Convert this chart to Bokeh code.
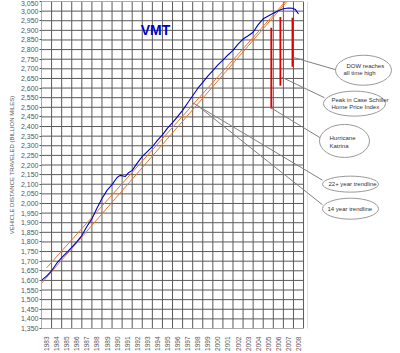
from math import pi
from bokeh.plotting import figure
from bokeh.models import Range1d, FixedTicker, NumeralTickFormatter, BoxAnnotation
from bokeh.core.properties import value
from bokeh.embed import file_html
from bokeh.resources import INLINE

# ---------------- data ----------------
vmt_x = [1983.0, 1983.5, 1984.0, 1984.5, 1985.0, 1985.5, 1986.0, 1986.5, 1987.0, 1987.5,
         1988.0, 1988.5, 1989.0, 1989.5, 1990.0, 1990.5, 1990.8, 1991.0, 1991.3, 1991.6,
         1992.0, 1992.5, 1993.0, 1993.5, 1994.0, 1994.5, 1995.0, 1995.5, 1996.0, 1996.5,
         1997.0, 1997.5, 1998.0, 1998.5, 1999.0, 1999.5, 2000.0, 2000.5, 2001.0, 2001.5,
         2002.0, 2002.5, 2003.0, 2003.5, 2004.0, 2004.5, 2005.0, 2005.5, 2006.0, 2006.5,
         2007.0, 2007.5, 2007.9, 2008.2, 2008.5]
vmt_y = [1600, 1622, 1650, 1688, 1718, 1745, 1772, 1800, 1833, 1880,
         1920, 1975, 2026, 2068, 2098, 2135, 2146, 2144, 2140, 2158,
         2172, 2210, 2245, 2270, 2295, 2328, 2357, 2392, 2420, 2452,
         2484, 2522, 2560, 2598, 2630, 2662, 2690, 2720, 2745, 2772,
         2796, 2828, 2855, 2872, 2890, 2930, 2960, 2975, 2989, 3002,
         3012, 3016, 3015, 3008, 2985]

trend22_x = [1983.5, 2007.2]
trend22_y = [1665, 3050]
trend14_x = [1983.0, 2007.35]
trend14_y = [1585, 3050]

event_names = ["Hurricane Katrina", "Peak in Case Schiller Home Price Index",
               "DOW reaches all time high"]
event_x = [2005.8, 2006.7, 2007.9]
event_top = [2914, 2969, 2965]
event_bottom = [2494, 2612, 2711]

year_labels = [str(y) for y in range(1983, 2009)]
y_ticks = list(range(1350, 3051, 50))
x_bounds = list(range(1983, 2010))

# ---------------- layout helpers ----------------
W, H = 400, 353
LEFT, TOP, BOTTOM = 41, 1, 19
X0, X1 = 1983.0, 2018.62
Y0, Y1 = 1350, 3050
FW = W - LEFT
FH = H - TOP - BOTTOM


def dx(px):
    return X0 + (px - LEFT) * (X1 - X0) / FW


def dy(py):
    return Y1 - (py - TOP) * (Y1 - Y0) / FH


FONT = value("Liberation Sans")

p = figure(width=W, height=H, x_range=Range1d(X0, X1), y_range=Range1d(Y0, Y1),
           output_backend="svg", toolbar_location=None,
           min_border_left=LEFT, min_border_right=0, min_border_top=TOP,
           min_border_bottom=BOTTOM)
p.outline_line_color = None
p.xgrid.visible = False
p.ygrid.visible = False
p.background_fill_color = "white"
p.border_fill_color = "white"

# grid (drawn only over the chart's plot area)
p.segment(x0=x_bounds, y0=[Y0] * len(x_bounds), x1=x_bounds, y1=[Y1] * len(x_bounds),
          line_color="#5a5a5a", line_width=1)
p.segment(x0=[x_bounds[0]] * len(y_ticks), y0=y_ticks, x1=[x_bounds[-1]] * len(y_ticks),
          y1=y_ticks, line_color="#5a5a5a", line_width=1)

# series
p.line(trend22_x, trend22_y, line_color="#E8772E", line_width=1)
p.line(trend14_x, trend14_y, line_color="#E8772E", line_width=1)
p.line(vmt_x, vmt_y, line_color="#0000CC", line_width=1.1)
p.segment(x0=event_x, y0=event_bottom, x1=event_x, y1=event_top,
          line_color="#E00000", line_width=1.8)

# title
p.text(x=[dx(155)], y=[dy(30)], text=["VMT"], text_font=FONT, text_font_style="bold",
       text_font_size="14px", text_color="#0000CC", text_align="center",
       text_baseline="middle")

# callouts
conn = [(293, 58, 337, 71), (281, 78, 324, 99), (270, 109, 320, 140),
        (192, 104, 322, 183), (197, 107, 322, 208)]
p.segment(x0=[dx(c[0]) for c in conn], y0=[dy(c[1]) for c in conn],
          x1=[dx(c[2]) for c in conn], y1=[dy(c[3]) for c in conn],
          line_color="#808080", line_width=1)

ell = [(363, 71, 56, 30), (354, 105, 62, 25), (344, 143, 50, 33),
       (350, 187, 56, 16), (350, 212, 56, 21)]
p.ellipse(x=[dx(e[0]) for e in ell], y=[dy(e[1]) for e in ell],
          width=[e[2] for e in ell], height=[e[3] for e in ell],
          width_units="screen", height_units="screen",
          fill_color="white", line_color="#9a9a9a", line_width=1)

notes = [(346, 67, "DOW reaches"), (343, 74, "all time high"),
         (331, 101, "Peak in Case Schiller"), (331, 108, "Home Price Index"),
         (329, 140, "Hurricane"), (329, 148, "Katrina"),
         (328, 187, "22+ year trendline"), (327, 212, "14 year trendline")]
p.text(x=[dx(n[0]) for n in notes], y=[dy(n[1]) for n in notes], text=[n[2] for n in notes],
       text_font=FONT, text_font_size="6px", text_color="#333333",
       text_align="left", text_baseline="middle")

# axes
p.xaxis.ticker = FixedTicker(ticks=[int(l) + 0.5 for l in year_labels])
p.xaxis.major_label_overrides = {int(l) + 0.5: l for l in year_labels}
p.xaxis.major_label_orientation = pi / 2
p.xaxis.axis_line_color = None
p.xaxis.major_tick_line_color = None
p.xaxis.minor_tick_line_color = None
p.xaxis.major_label_standoff = 2
p.xaxis.major_label_text_font = "Liberation Sans"
p.xaxis.major_label_text_font_size = "6.5px"
p.xaxis.major_label_text_color = "#555555"

p.yaxis.ticker = FixedTicker(ticks=y_ticks)
p.yaxis.formatter = NumeralTickFormatter(format="0,0")
p.yaxis.axis_line_color = None
p.yaxis.major_tick_out = 2
p.yaxis.major_tick_in = 0
p.yaxis.major_tick_line_color = "#555555"
p.yaxis.minor_tick_line_color = None
p.yaxis.major_label_standoff = 1
p.yaxis.major_label_text_font = "Liberation Sans"
p.yaxis.major_label_text_font_size = "7px"
p.yaxis.major_label_text_color = "#555555"
p.yaxis.axis_label = "VEHICLE DISTANCE TRAVELED (BILLION MILES)"
p.yaxis.axis_label_text_font = "Liberation Sans"
p.yaxis.axis_label_text_font_size = "6px"
p.yaxis.axis_label_text_font_style = "normal"
p.yaxis.axis_label_text_color = "#555555"
p.yaxis.axis_label_standoff = 3

# chart-area border
p.add_layout(BoxAnnotation(left=1, right=307, top=-1, bottom=353,
                           left_units="canvas", right_units="canvas",
                           top_units="canvas", bottom_units="canvas",
                           fill_alpha=0, line_color="#999999", line_width=1))

open("out.html", "w").write(file_html(p, INLINE))
